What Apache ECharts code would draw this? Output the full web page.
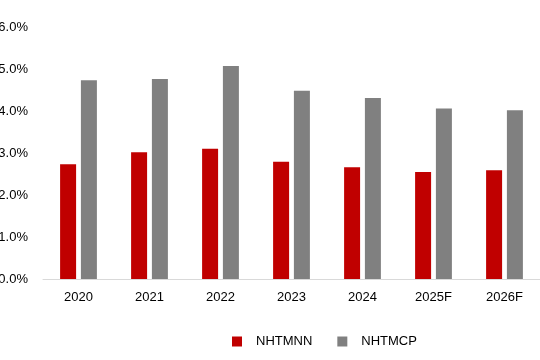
<!DOCTYPE html>
<html><head><meta charset="utf-8">
<script src="https://cdn.jsdelivr.net/npm/echarts@6/dist/echarts.min.js"></script>
<style>html,body{margin:0;padding:0;background:#fff}#c{width:540px;height:360px}</style>
</head><body><div id="c"></div>
<script>
var categories = ['2020','2021','2022','2023','2024','2025F','2026F'];
var nhtmnn = [2.73, 3.02, 3.10, 2.79, 2.66, 2.55, 2.59];
var nhtmcp = [4.73, 4.76, 5.07, 4.48, 4.31, 4.06, 4.02];
var yTicks = [0, 1, 2, 3, 4, 5, 6];

var FONT = '"Liberation Sans", Arial, sans-serif';
var chart = echarts.init(document.getElementById('c'), null, {renderer:'canvas'});
chart.setOption({
  animation:false,
  textStyle:{fontFamily:FONT},
  grid:{left:43, right:0, top:27, bottom:81, containLabel:false, outerBoundsMode:'none'},
  legend:{
    top:330, left:227,
    itemWidth:10, itemHeight:10, itemGap:25,
    icon:'rect',
    textStyle:{fontFamily:FONT, fontSize:13, color:'#000', padding:[0,0,0,9]},
    data:['NHTMNN','NHTMCP']
  },
  xAxis:{
    type:'category', data:categories,
    axisLine:{lineStyle:{color:'#d9d9d9', width:1}},
    axisTick:{show:false},
    axisLabel:{color:'#000', fontFamily:FONT, fontSize:13, margin:12}
  },
  yAxis:{
    type:'value', min:yTicks[0], max:yTicks[yTicks.length-1], interval:1,
    axisLine:{show:false}, axisTick:{show:false}, splitLine:{show:false},
    axisLabel:{color:'#000', fontFamily:FONT, fontSize:13, margin:15, formatter:function(v){return v.toFixed(1)+'%';}}
  },
  series:[
    {name:'NHTMNN', type:'bar', data:nhtmnn, barWidth:16, barGap:'30%', itemStyle:{color:'#c00000'}},
    {name:'NHTMCP', type:'bar', data:nhtmcp, barWidth:16, itemStyle:{color:'#808080'}}
  ]
});
</script></body></html>
